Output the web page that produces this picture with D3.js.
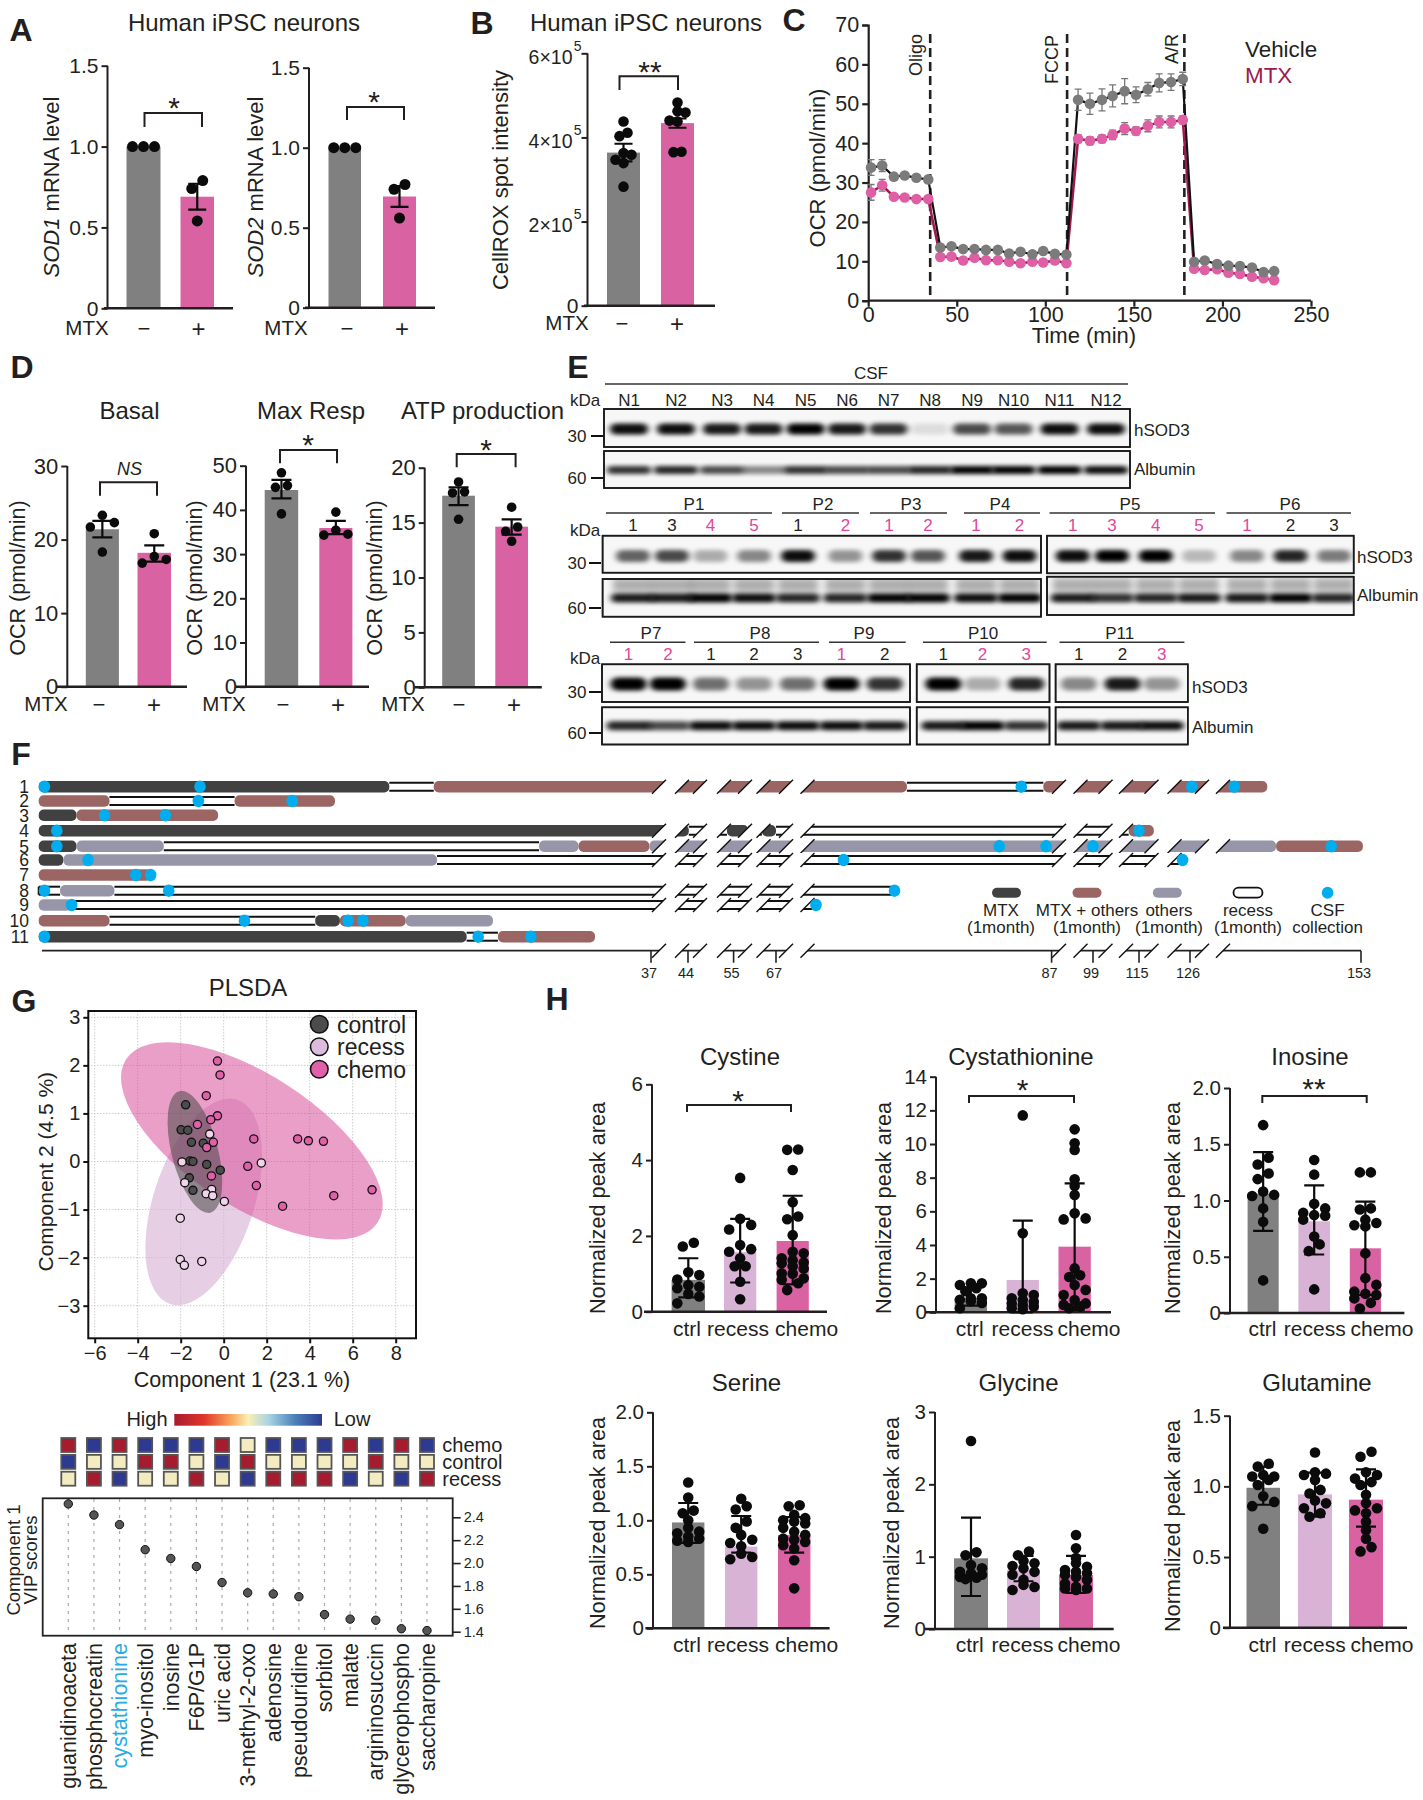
<!DOCTYPE html>
<html><head><meta charset="utf-8">
<script src="https://cdn.jsdelivr.net/npm/d3@7"></script>
<style>html,body{margin:0;background:#fff}svg{display:block}text{font-family:"Liberation Sans",Arial,sans-serif;fill:#231f20}</style>
</head><body><svg id="c" width="1423" height="1800"></svg>
<script>
// ---------- DATA ----------
const mtxCats=["\u2212","+"];
const sod1Means=[1,0.69], sod1Hi=[1,0.77], sod1Lo=[1,0.61], sod1Pts=[[1,1,1],[0.79,0.74,0.54]];
const sod2Means=[1,0.695], sod2Hi=[1,0.76], sod2Lo=[1,0.63], sod2Pts=[[1,1,1],[0.77,0.74,0.56]];
const roxMeans=[3.64,4.34], roxHi=[3.85,4.45], roxLo=[3.43,4.23];
const roxPts=[[4.38,4.11,4.03,3.63,3.59,3.47,3.39,2.83],[4.83,4.62,4.59,4.4,4.38,3.66,3.65]];
const ocrTime=[1.6,7.9,14.5,20.6,27.2,33.9,40.7,47,53.6,60,66.5,73.2,79.6,86,92.7,98.8,105.4,111.9,118.5,125.2,132,138,144.8,151.2,157.9,164.3,171,177.6,184,190,197,203.4,209.9,216.7,223.2,229.2];
const ocrVehicle=[33.8,34.3,31.5,31.8,31.2,30.8,13.5,13.8,13.1,13.1,12.9,12.9,12,12.4,11.8,12.6,11.9,11.7,51,50,51,52,53.2,52.3,53.7,55.3,55.5,56.3,9.9,10.2,9.3,8.9,8.8,8.4,7.3,7.5];
const ocrMtx=[27.5,29.3,26.4,26.2,25.8,25.8,11.1,11.2,10.2,10.9,10.3,10.3,9.9,9.5,9.9,9.7,10.2,9.5,41.1,40.6,41.1,42.1,43.7,43.1,44.4,45.4,45.4,45.9,8.1,7.8,8,7.1,6.8,6.1,5.7,5.2];
const ocrVehicleErr=[2,1.5,0.8,0.6,0.8,0.7,0.5,0.5,0.5,0.5,0.5,0.5,0.5,0.5,0.5,0.5,0.5,0.5,2.7,2.7,2.8,2.8,3.2,2,1.7,2.3,2.1,1.7,0.5,0.5,0.5,0.5,0.5,0.5,0.5,0.5];
const ocrMtxErr=[2,1.5,0.6,0.5,0.5,0.5,0.5,0.5,0.5,0.5,0.5,0.5,0.5,0.5,0.5,0.5,0.5,0.5,1,1,1,1.2,1.5,1,1.5,1.5,1.5,1,0.5,0.5,0.5,0.5,0.5,0.5,0.5,0.5];
const ocrInjections=[{n:"Oligo",t:35},{n:"FCCP",t:112.3},{n:"A/R",t:178.5}];
const basalMeans=[21.4,18.2], basalHi=[22.55,19.2], basalLo=[20.3,17], basalPts=[[23.3,22.3,21.7,18.3],[20.8,17.7,17.3,16.8]];
const maxMeans=[44.5,35.9], maxHi=[46.8,37.5], maxLo=[42.6,34.5], maxPts=[[48.4,45.5,45.1,39.1],[39.5,35.4,34.5,34.3]];
const atpMeans=[17.45,14.63], atpHi=[18.2,15.3], atpLo=[16.6,13.9], atpPts=[[18.7,17.8,17.7,15.3],[16.4,14.6,14.2,13.3]];

const csfLanes=["N1","N2","N3","N4","N5","N6","N7","N8","N9","N10","N11","N12"];
const csfSod=[.95,.95,.9,.9,1,.9,.8,.1,.7,.65,.95,.95];
const csfAlb=[.8,.85,.7,.45,.8,.7,.7,.85,1,1,1,.95];
const row2Lanes=["1","3","4","5","1","2","1","2","1","2","1","3","4","5","1","2","3"];
const row2Pink=[0,0,1,1,0,1,1,1,1,1,1,1,1,1,1,0,0];
const row2Sod=[.6,.7,.3,.45,.95,.4,.8,.65,.9,.95,.95,1,1,.25,.45,.85,.5];
const row2Alb=[.9,.9,1,.95,.85,.85,1,1,.95,1,.9,.8,.85,.9,.9,1,.85];
const row3Lanes=["1","2","1","2","3","1","2","1","2","3","1","2","3"];
const row3Pink=[1,1,0,0,0,1,0,0,1,1,0,0,1];
const row3Sod=[1,1,.55,.4,.55,1,.8,1,.3,.85,.45,.9,.4];
const row3Alb=[.85,.7,.95,.95,.95,.95,.9,.9,1,.8,.9,.9,.95];
const row2Patients=["P1","P2","P3","P4","P5","P6"];
const row3Patients=["P7","P8","P9","P10","P11"];

const fTickMonths=[37,44,55,67,87,99,115,126,153];
const fRowNames=["1","2","3","4","5","6","7","8","9","10","11"];
const fSpans=[
 [["M",-.2,21.1],["R",21.1,23.8],["P",23.8,76.5],["R",76.5,86.4],["P",86.4,138.2]],
 [["P",-.2,4.1],["R",4.1,11.7],["P",11.7,17.8]],
 [["M",-.2,2.1],["P",2.1,10.7]],
 [["M",-.2,44.2],["R",44.2,53.4],["M",53.4,59.2],["R",59.2,63],["M",63,67],["R",67,111.4],["P",111.4,118.2]],
 [["M",-.2,2.1],["O",2.1,7.4],["R",7.4,30.2],["O",30.2,32.6],["P",32.6,36.9],["O",36.9,139.6],["P",139.6,153.3]],
 [["M",-.2,1.3],["O",1.3,24],["R",24,124.4]],
 [["P",-.2,6.65]],
 [["R",-.2,1.1],["O",1.1,4.4],["R",4.4,75.5]],
 [["O",-.2,1.8],["R",1.8,69.8]],
 [["P",-.2,4.1],["R",4.1,16.6],["M",16.6,18.1],["P",18.1,22.1],["O",22.1,27.4]],
 [["M",-.2,25.8],["R",25.8,27.7],["P",27.7,33.6]]
];
const fCsf=[[.15,9.6,84.8,126.3,133],[9.5,15.2],[3.8,7.5],[.9,115],[.9,83.2,86.6,99,148.3],[2.8,71.9,124.4],[5.7,6.6],[.15,7.7,75.6],[1.8,69.9],[12.3,18.6,19.5],[.15,26.5,29.7]];
const fLegendTypes=["M","P","O","R","C"];
const fLegendText=[["MTX","(1month)"],["MTX + others","(1month)"],["others","(1month)"],["recess","(1month)"],["CSF","collection"]];

const plsControl=[[-1.77,1.18],[-1.98,.66],[-1.67,.65],[-1.5,.4],[-.95,.38],[-1.57,.01],[-1.43,0],[-.79,-.06],[-.16,-.18],[-1.6,-.34],[-1.43,-.6]];
const plsRecess=[[-.65,.57],[-1.94,-.01],[-1.81,-.44],[-.56,-.58],[-.82,-.67],[-.51,-.71],[.03,-.83],[1.75,-.03],[-2.02,-1.18],[-2.02,-2.04],[-1.83,-2.16],[-1.02,-2.08]];
const plsChemo=[[-.29,2.09],[-.17,1.8],[-.81,1.37],[-.29,.95],[-.6,.87],[-1.22,.77],[-.48,.4],[-.79,.29],[-.57,-.3],[1.4,.47],[1.12,-.1],[1.52,-.5],[2.74,-.93],[3.44,.47],[3.94,.43],[4.64,.42],[5.12,-.71],[6.9,-.59]];
const plsCentres={chemo:[1.31,.43],recess:[-.93,-.84],control:[-1.34,.2]};

const vipNames=["guanidinoaceta","phosphocreatin","cystathionine","myo-inositol","inosine","F6P/G1P","uric acid","3-methyl-2-oxo","adenosine","pseudouridine","sorbitol","malate","argininosuccin","glycerophospho","saccharopine"];
const vipScores=[2.517,2.42,2.336,2.117,2.04,1.97,1.83,1.74,1.73,1.706,1.55,1.51,1.5,1.426,1.41];
const heatRows=["chemo","control","recess"];
const heatChemo=["H","L","H","L","L","L","H","M","L","L","L","H","L","H","L"];
const heatControl=["L","M","M","H","H","M","L","H","M","M","M","M","H","M","M"];
const heatRecess=["M","H","L","M","M","H","M","L","H","H","H","L","M","L","H"];

const groups=["ctrl","recess","chemo"];
const cystineMeans=[.84,1.57,1.865], cystineHi=[1.41,2.45,3.06], cystineLo=[.38,.77,.72];
const cystinePts=[[1.82,1.72,1.04,.97,.85,.7,.66,.62,.47,.4,.22],[3.53,2.45,2.29,2.17,1.76,1.65,1.58,1.41,1.2,1.2,.79,.33],[4.28,4.27,3.74,2.89,2.51,2.44,2.02,1.58,1.54,1.41,1.36,1.3,1.28,1.2,1.14,1.01,1,.88,.84,.75,.57]];
const cysthMeans=[.83,1.92,3.9], cysthHi=[1.47,5.45,7.66], cysthLo=[.4,0,.15];
const cysthPts=[[1.72,1.72,1.62,1.43,1.25,.83,.83,.75,.65,.55,.24],[11.7,4.7,1.13,1.03,.83,.73,.63,.53,.44,.34,.24,.18],[10.87,10.04,9.64,7.9,7.5,6.97,5.88,5.58,5.52,2.61,2.2,2.1,1.62,1.33,1.03,.73,.53,.44,.34,.24]];
const inosineMeans=[1.06,.815,.575], inosineHi=[1.43,1.135,.99], inosineLo=[.73,.52,.16];
const inosinePts=[[1.67,1.38,1.32,1.24,1.19,1.08,1.05,1.04,.93,.81,.29],[1.36,1.23,.97,.93,.89,.87,.865,.83,.68,.61,.55,.21],[1.25,1.25,.93,.92,.83,.8,.78,.77,.53,.31,.25,.19,.17,.16,.13,.09,.04]];
const serineMeans=[.98,.756,.864], serineHi=[1.16,1.04,1.03], serineLo=[.79,.7,.7];
const serinePts=[[1.35,1.21,1.09,1.065,1,.93,.895,.88,.85,.83,.81,.8],[1.2,1.13,1.1,.99,.93,.865,.82,.79,.76,.69,.66,.64],[1.14,1.13,1.05,1.02,1,.99,.97,.93,.895,.865,.83,.82,.8,.77,.74,.63,.37]];
const glycineMeans=[.977,.815,.746], glycineHi=[1.54,1.01,1.01], glycineLo=[.456,.66,.5];
const glycinePts=[[2.6,1.06,1.02,.885,.84,.79,.77,.75,.72,.71,.69],[1.07,1.02,.94,.91,.87,.84,.79,.75,.68,.61,.58,.54],[1.3,1.115,.98,.91,.86,.815,.79,.77,.75,.72,.68,.63,.585,.56,.56,.54]];
const glutamineMeans=[.99,.943,.906], glutamineHi=[1.14,1.097,1.12], glutamineLo=[.87,.785,.715];
const glutaminePts=[[1.16,1.14,1.08,1.07,1.07,1.045,1.01,.93,.89,.86,.7],[1.24,1.1,1.09,1.08,1.045,.975,.95,.9,.88,.845,.81,.785],[1.245,1.21,1.1,1.08,1.055,1.03,1.01,.94,.88,.845,.83,.81,.75,.69,.63,.57,.54]];

// ---------- HELPERS ----------
const INK="#231f20",GREY="#808080",PINK="#d962a3",LILAC="#d8b3d6",CSFBLUE="#00aeef";
const svg=d3.select("#c");
function T(x,y,s,o={}){
  const t=svg.append("text").attr("x",x).attr("y",y).attr("dy",o.dy??".36em")
    .attr("font-size",o.size||20).attr("text-anchor",o.anchor||"middle").text(s);
  if(o.weight)t.attr("font-weight",o.weight);
  if(o.italic)t.attr("font-style","italic");
  if(o.color)t.style("fill",o.color);
  if(o.rot!==undefined)t.attr("transform",`rotate(${o.rot},${x},${y})`);
  return t;
}
function layoutPts(vals,y,step,cap,thr){
  const s=vals.slice().sort((a,b)=>b-a);const out=[];let chain=[];
  const flush=()=>{const n=chain.length;chain.forEach((v,i)=>{
    let off;
    if(n%2){off=i===0?0:Math.ceil(i/2)*(i%2?1:-1)}
    else{off=(Math.floor(i/2)+.5)*(i%2?-1:1)}
    out.push([off*step,v])});chain=[]};
  s.forEach(v=>{if(chain.length&&(y(v)-y(chain[chain.length-1])>=thr||chain.length>=cap))flush();chain.push(v)});
  flush();return out;
}
function bracket(x1,x2,yT,yB,label,lx,ly,o={}){
  svg.append("path").attr("d",`M${x1},${yB}V${yT}H${x2}V${yB}`).attr("fill","none").attr("stroke",INK).attr("stroke-width",o.w||2);
  if(o.italic)T(lx,ly,label,{size:o.size||24,italic:true});
  else T(lx,ly,label,{size:o.size||30,dy:".56em"});
}
function barPanel(p){
  const y=d3.scaleLinear().domain([0,p.max]).range([p.y0,p.y1]);
  const g=svg.append("g");
  const ax=g.append("g").attr("transform",`translate(${p.ax},0)`)
    .call(d3.axisLeft(y).tickValues(p.ticks).tickSize(p.tick||6).tickFormat(p.fmt||(v=>v===0?"0":d3.format(p.dec||".1f")(v))));
  ax.selectAll("path,line").attr("stroke",INK).attr("stroke-width",2);
  ax.selectAll(".domain").attr("d",`M0,${y(p.max)}V${p.y0}`);
  ax.selectAll("text").attr("font-size",p.tickSize||21).attr("font-family",'"Liberation Sans"').style("fill",INK);
  const r=p.r||5.3;
  p.bars.forEach((b,i)=>{
    g.append("rect").attr("x",b[0]).attr("width",b[1]-b[0]).attr("y",y(p.means[i])).attr("height",p.y0-y(p.means[i])).attr("fill",p.colors[i]);
  });
  g.append("line").attr("x1",p.xs).attr("x2",p.xe).attr("y1",p.y0).attr("y2",p.y0).attr("stroke",INK).attr("stroke-width",2.5);
  p.bars.forEach((b,i)=>{
    const c=(b[0]+b[1])/2;
    const pts=layoutPts(p.pts[i],y,p.step||11,p.cap||3,p.thr||r*1.3);
    g.selectAll(null).data(pts).enter().append("circle").attr("cx",d=>c+d[0]).attr("cy",d=>y(d[1])).attr("r",r).attr("fill","#0b0b0b");
    if(p.hi[i]!==p.lo[i]){
      const cw=p.cap_w||10;
      g.append("path").attr("d",`M${c-cw},${y(p.hi[i])}H${c+cw}M${c},${y(p.hi[i])}V${y(p.lo[i])}M${c-cw},${y(p.lo[i])}H${c+cw}`).attr("stroke","#0b0b0b").attr("stroke-width",2.2).attr("fill","none");
    }
  });
  return y;
}

// ---------- PANEL LETTERS ----------
[["A",21,29],["B",482,22],["C",794,19],["D",22,366],["E",578,366],["F",21,753],["G",24,1000],["H",557,998]]
 .forEach(d=>T(d[1],d[2],d[0],{size:32,weight:"bold"}));

// ---------- A ----------
T(244,22,"Human iPSC neurons",{size:24});
barPanel({ax:107.5,xs:104,xe:233,y0:308.3,y1:65.7,max:1.5,ticks:[0,.5,1,1.5],bars:[[126.5,160.5],[180.5,214]],means:sod1Means,hi:sod1Hi,lo:sod1Lo,pts:sod1Pts,colors:[GREY,PINK],r:5.5,step:11,cap_w:9,thr:9});
barPanel({ax:309,xs:305,xe:435,y0:307.7,y1:67.7,max:1.5,ticks:[0,.5,1,1.5],bars:[[328.5,361],[383,416]],means:sod2Means,hi:sod2Hi,lo:sod2Lo,pts:sod2Pts,colors:[GREY,PINK],r:5.5,step:11,cap_w:9,thr:9});
const rot=(x,y,parts,size)=>{const t=svg.append("text").attr("transform",`translate(${x},${y}) rotate(-90)`).attr("text-anchor","middle").attr("font-size",size||22);
 parts.forEach(p=>t.append("tspan").attr("font-style",p[1]?"italic":null).text(p[0]));};
rot(59,187,[["SOD1",1],[" mRNA level"]]);
rot(263,187,[["SOD2",1],[" mRNA level"]]);
bracket(144.5,202,113,127,"*",174,101);
bracket(347,404,107,120,"*",374,95);
[[87,144,198.5,328],[286,347,402,328],[567,622,677,323],[46,99,154,704],[224,283,338,704],[403,459,514,704]].forEach(d=>{
 T(d[0],d[3],"MTX",{size:20.5});T(d[1],d[3],mtxCats[0],{size:22});T(d[2],d[3],mtxCats[1],{size:24});});

// ---------- B ----------
T(646,22,"Human iPSC neurons",{size:24});
const supFmt=v=>v===0?"0":`${v}\u00d710`;
const yB=barPanel({ax:587.5,xs:584,xe:715,y0:305.7,y1:53.3,max:6,ticks:[0,2,4,6],bars:[[607,640],[661,694]],means:roxMeans,hi:roxHi,lo:roxLo,pts:roxPts,colors:[GREY,PINK],r:5.3,step:8,cap_w:9,thr:8,fmt:supFmt});
svg.selectAll("g.tick").filter(function(){return d3.select(this).select("text").text().includes("\u00d7")}).select("text").each(function(){
 const s=d3.select(this);s.attr("font-size",19.5).attr("x",-15).attr("y",4);
 d3.select(this.parentNode).append("text").attr("x",-6).attr("y",-3).attr("text-anchor","end").attr("font-size",14).style("fill",INK).attr("font-family",'"Liberation Sans"').text("5");
});
rot(508,180,[["CellROX spot intensity"]]);
bracket(619.5,678,76.3,90,"**",650,65);

// ---------- C ----------
{
 const x=d3.scaleLinear().domain([0,250]).range([868.2,1311]);
 const y=d3.scaleLinear().domain([0,70]).range([300.7,25]);
 const ga=svg.append("g").attr("transform","translate(868.2,0)").call(d3.axisLeft(y).tickValues(d3.range(0,71,10)).tickSize(6));
 const gb=svg.append("g").attr("transform","translate(0,300.7)").call(d3.axisBottom(x).tickValues(d3.range(0,251,50)).tickSize(6));
 [ga,gb].forEach(a=>{a.selectAll("path,line").attr("stroke",INK).attr("stroke-width",2.2);a.selectAll("text").attr("font-size",21.5).attr("font-family",'"Liberation Sans"').style("fill",INK);});
 gb.selectAll(".domain").attr("d",`M868.2,0H1311`);
 gb.selectAll("text").attr("dy",".55em").attr("y",9);
 ocrInjections.forEach(d=>svg.append("line").attr("x1",x(d.t)).attr("x2",x(d.t)).attr("y1",34).attr("y2",300).attr("stroke",INK).attr("stroke-width",2.6).attr("stroke-dasharray","9 5"));
 T(916,76,"Oligo",{size:18,rot:-90,anchor:"start"});
 T(1052,84,"FCCP",{size:18,rot:-90,anchor:"start"});
 T(1172,64,"A/R",{size:18,rot:-90,anchor:"start"});
 const line=d3.line().x((d,i)=>x(ocrTime[i])).y(d=>y(d));
 svg.append("path").attr("d",line(ocrMtx)).attr("fill","none").attr("stroke","#a3174f").attr("stroke-width",2.5);
 svg.append("path").attr("d",line(ocrVehicle)).attr("fill","none").attr("stroke","#111").attr("stroke-width",2.2);
 const drawPts=(vals,errs,col,ec)=>{
  vals.forEach((v,i)=>{const c=x(ocrTime[i]);
   svg.append("path").attr("d",`M${c-3.5},${y(v+errs[i])}H${c+3.5}M${c},${y(v+errs[i])}V${y(v-errs[i])}M${c-3.5},${y(v-errs[i])}H${c+3.5}`).attr("stroke",ec).attr("stroke-width",1.3).attr("fill","none");});
  svg.selectAll(null).data(vals).enter().append("circle").attr("cx",(d,i)=>x(ocrTime[i])).attr("cy",d=>y(d)).attr("r",5.3).attr("fill",col);
 };
 drawPts(ocrMtx,ocrMtxErr,"#df5fa5","#777");
 drawPts(ocrVehicle,ocrVehicleErr,"#7b7b7b","#777");
 T(817,168,"OCR (pmol/min)",{size:22,rot:-90});
 T(1084,335,"Time (min)",{size:22});
 T(1245,49,"Vehicle",{size:22.4,anchor:"start"});
 T(1245,75,"MTX",{size:22.4,anchor:"start",color:"#9b1b4a"});
}

// ---------- D ----------
T(129.5,410,"Basal",{size:24}); T(311,410,"Max Resp",{size:24}); T(482.5,410,"ATP production",{size:24});
barPanel({ax:67.3,xs:56,xe:187,y0:686.7,y1:466,max:30,ticks:[0,10,20,30],dec:"d",bars:[[85.8,118.9],[137.5,171]],means:basalMeans,hi:basalHi,lo:basalLo,pts:basalPts,colors:[GREY,PINK],r:4.8,step:12,thr:9,cap:3,tickSize:22});
barPanel({ax:246,xs:236,xe:369,y0:686.7,y1:465.7,max:50,ticks:[0,10,20,30,40,50],dec:"d",bars:[[264.7,298.2],[319.3,352.4]],means:maxMeans,hi:maxHi,lo:maxLo,pts:maxPts,colors:[GREY,PINK],r:4.8,step:12,thr:9,cap:3,tickSize:22});
barPanel({ax:424.7,xs:414.5,xe:541.8,y0:687.3,y1:467.7,max:20,ticks:[0,5,10,15,20],dec:"d",bars:[[442.2,474.9],[495.3,528]],means:atpMeans,hi:atpHi,lo:atpLo,pts:atpPts,colors:[GREY,PINK],r:4.8,step:12,thr:9,cap:3,tickSize:22});
T(17,578,"OCR (pmol/min)",{size:21.5,rot:-90});T(194,578,"OCR (pmol/min)",{size:21.5,rot:-90});T(374.6,578,"OCR (pmol/min)",{size:21.5,rot:-90});
bracket(100,157,482.3,495.7,"NS",129.5,469,{italic:true,size:18});
bracket(280,337,450,463.3,"*",308,438);
bracket(456.7,515.6,454,467.3,"*",486,443);

// ---------- E ----------
{
 const defs=svg.append("defs");
 defs.append("filter").attr("id","bl").attr("x","-30%").attr("y","-60%").attr("width","160%").attr("height","220%").append("feGaussianBlur").attr("stdDeviation","3 2");
 defs.append("filter").attr("id","bl2").attr("x","-30%").attr("y","-60%").attr("width","160%").attr("height","220%").append("feGaussianBlur").attr("stdDeviation","3.5 3.5");
 const box=(x1,x2,y1,y2)=>svg.append("rect").attr("x",x1).attr("y",y1).attr("width",x2-x1).attr("height",y2-y1).attr("fill","#f7f7f7").attr("stroke","#1a1a1a").attr("stroke-width",1.6);
 const frame=(x1,x2,y1,y2)=>svg.append("rect").attr("x",x1).attr("y",y1).attr("width",x2-x1).attr("height",y2-y1).attr("fill","none").attr("stroke","#1a1a1a").attr("stroke-width",1.6);
 const clipBox=(id,bs)=>{const c=defs.append("clipPath").attr("id",id);bs.forEach(b=>c.append("rect").attr("x",b[0]).attr("y",b[2]).attr("width",b[1]-b[0]).attr("height",b[3]-b[2]));};
 const bands=(id,xs,vals,by,w,h,smear)=>{
  const gg=svg.append("g").attr("clip-path",`url(#${id})`);
  xs.forEach((x,i)=>{
   if(smear)gg.append("rect").attr("x",x-w/2+2).attr("y",by-smear-6).attr("width",w-4).attr("height",smear).attr("fill","#000").attr("opacity",.3).attr("filter","url(#bl2)");
   gg.append("rect").attr("x",x-w/2).attr("y",by-h/2).attr("width",w).attr("height",h).attr("rx",h/2).attr("fill","#000").attr("opacity",vals[i]).attr("filter","url(#bl)");
  });
 };
 const lab=(x,y,s,o={})=>T(x,y,s,{size:17,...o});
 const mw=(x,y)=>svg.append("line").attr("x1",x).attr("x2",x+12).attr("y1",y).attr("y2",y).attr("stroke","#111").attr("stroke-width",2);
 const hdr=(x1,x2,y)=>svg.append("line").attr("x1",x1).attr("x2",x2).attr("y1",y).attr("y2",y).attr("stroke","#333").attr("stroke-width",1.5);
 // row 1
 const xs1=[629,676,722,763.5,805.6,847,888.5,930,972,1013.5,1059.5,1106];
 lab(871,373,"CSF");hdr(605,1128,384);
 csfLanes.forEach((n,i)=>lab(xs1[i],400,n));
 clipBox("c1",[[604,1130,409,447]]);clipBox("c2",[[604,1130,451,488]]);
 box(604,1130,409,447);bands("c1",xs1,csfSod,429,38,11);frame(604,1130,409,447);
 box(604,1130,451,488);bands("c2",xs1,csfAlb,470,44,8);frame(604,1130,451,488);
 lab(585,400,"kDa");lab(577,436,"30");lab(577,478,"60");mw(591,436);mw(591,478);
 lab(1134,430,"hSOD3",{anchor:"start"});lab(1134,469,"Albumin",{anchor:"start"});
 // row 2
 const xs2=[633,672,710.4,754,798,845.4,889,928,976,1019.6,1072.7,1112,1155.7,1199,1247,1290.6,1334];
 const pat2=[[606,772,694],[782,859,823],[870,947,911],[964,1040,1000],[1049.5,1215,1130],[1226.5,1351,1290]];
 row2Patients.forEach((n,i)=>{hdr(pat2[i][0],pat2[i][1],513);lab(pat2[i][2],504,n);});
 row2Lanes.forEach((n,i)=>lab(xs2[i],525,n,{color:row2Pink[i]?"#e0459b":INK}));
 clipBox("c3",[[602.6,1041,535.7,572.7],[1047,1353.7,535.7,573.3]]);
 clipBox("c4",[[602.6,1041,579,616.7],[1047,1353.7,576.7,615]]);
 box(602.6,1041,535.7,572.7);box(1047,1353.7,535.7,573.3);
 bands("c3",xs2,row2Sod,556,34,12);
 frame(602.6,1041,535.7,572.7);frame(1047,1353.7,535.7,573.3);
 box(602.6,1041,579,616.7);box(1047,1353.7,576.7,615);
 bands("c4",xs2,row2Alb,598,44,9,14);
 frame(602.6,1041,579,616.7);frame(1047,1353.7,576.7,615);
 lab(585,530,"kDa");lab(577,563,"30");lab(577,608,"60");mw(589,563);mw(589,608);
 lab(1357,557,"hSOD3",{anchor:"start"});lab(1357,595,"Albumin",{anchor:"start"});
 // row 3
 const xs3=[628.6,667.9,711,754,797.8,841.5,884.7,943.3,982.6,1026.3,1078.8,1122.5,1161.8];
 const pat3=[[610,685.5,651],[694,819,760],[829,905.7,864],[923,1046.7,983],[1059.5,1184.4,1119.7]];
 row3Patients.forEach((n,i)=>{hdr(pat3[i][0],pat3[i][1],642.3);lab(pat3[i][2],633,n);});
 row3Lanes.forEach((n,i)=>lab(xs3[i],654,n,{color:row3Pink[i]?"#e0459b":INK}));
 const bx3=[[602,910],[916.7,1049.5],[1055.6,1187.8]];
 clipBox("c5",bx3.map(b=>[b[0],b[1],664.3,702]));
 clipBox("c6",bx3.map(b=>[b[0],b[1],707.3,744.5]));
 bx3.forEach(b=>box(b[0],b[1],664.3,702));
 bands("c5",xs3,row3Sod,684,36,13);
 bx3.forEach(b=>frame(b[0],b[1],664.3,702));
 bx3.forEach(b=>box(b[0],b[1],707.3,744.5));
 bands("c6",xs3,row3Alb,725.7,44,9);
 bx3.forEach(b=>frame(b[0],b[1],707.3,744.5));
 lab(585,658,"kDa");lab(577,692,"30");lab(577,733,"60");mw(589,692);mw(589,733);
 lab(1192,687,"hSOD3",{anchor:"start"});lab(1192,727,"Albumin",{anchor:"start"});
}

// ---------- F ----------
{
 const s=d3.scaleLinear().domain([0,37,44,55,67,87,99,115,126,153]).range([42,651,688,733.6,776,1051.6,1093,1139,1190,1361]);
 const ys=[786.7,801,815.3,830.7,846.3,860,875,890.7,905,920.7,936.7];
 const col={M:"#414141",P:"#9a6563",O:"#9796a9"};
 const gaps=[[659,682],[700,724],[745,763.5],[786,807.5],[1059,1080.5],[1105.5,1126],[1151.5,1174.5],[1202,1223]];
 const slash=(x,y)=>svg.append("line").attr("x1",x-7).attr("x2",x+7).attr("y1",y+7).attr("y2",y-7).attr("stroke","#111").attr("stroke-width",1.4);
 fSpans.forEach((row,i)=>{
  const y=ys[i];
  T(29,y,fRowNames[i],{size:17.5,anchor:"end"});
  row.filter(d=>d[0]==="R").forEach(d=>{
   [-4,4].forEach(o=>svg.append("line").attr("x1",s(d[1])).attr("x2",s(d[2])).attr("y1",y+o).attr("y2",y+o).attr("stroke","#111").attr("stroke-width",2));
   if(d[1]<0)svg.append("line").attr("x1",s(d[1])).attr("x2",s(d[1])).attr("y1",y-4).attr("y2",y+4).attr("stroke","#111").attr("stroke-width",2);
  });
  row.filter(d=>d[0]!=="R").forEach(d=>svg.append("rect").attr("x",s(d[1])).attr("width",s(d[2])-s(d[1])).attr("y",y-5.7).attr("height",11.4).attr("rx",5).attr("fill",col[d[0]]));
  const end=s(d3.max(row,d=>d[2]));
  gaps.filter(g=>end>g[1]).forEach(g=>{
   svg.append("polygon").attr("points",`${g[0]+7},${y-7} ${g[1]+7},${y-7} ${g[1]-7},${y+7} ${g[0]-7},${y+7}`).attr("fill","#fff");
   slash(g[0],y);slash(g[1],y);
  });
 });
 fCsf.forEach((row,i)=>svg.selectAll(null).data(row).enter().append("ellipse").attr("cx",d=>s(d)).attr("cy",ys[i]).attr("rx",5.8).attr("ry",6.2).attr("fill",CSFBLUE));
 const ay=950.7;
 svg.append("line").attr("x1",42).attr("x2",s(153)).attr("y1",ay).attr("y2",ay).attr("stroke","#222").attr("stroke-width",1.8);
 gaps.forEach(g=>{
  svg.append("polygon").attr("points",`${g[0]+7},${ay-5} ${g[1]+7},${ay-5} ${g[1]-7},${ay+5} ${g[0]-7},${ay+5}`).attr("fill","#fff");
  slash(g[0],ay);slash(g[1],ay);
 });
 fTickMonths.forEach(m=>{
  svg.append("line").attr("x1",s(m)).attr("x2",s(m)).attr("y1",ay).attr("y2",ay+12).attr("stroke","#222").attr("stroke-width",1.6);
  T(s(m)-2,973,m,{size:14.5});
 });
 const lx=[1006.5,1087,1167.3,1248,1327.6],tx=[1001,1087,1169,1248,1327.6];
 fLegendTypes.forEach((t,i)=>{
  if(t==="C")svg.append("ellipse").attr("cx",lx[i]).attr("cy",892.7).attr("rx",5.8).attr("ry",6).attr("fill",CSFBLUE);
  else svg.append("rect").attr("x",lx[i]-14.5).attr("y",887.7).attr("width",29).attr("height",10).attr("rx",5).attr("fill",t==="R"?"#fff":col[t]).attr("stroke",t==="R"?"#111":"none").attr("stroke-width",1.8);
  T(tx[i],910,fLegendText[i][0],{size:17});T(tx[i],926.7,fLegendText[i][1],{size:17});
 });
}

// ---------- G ----------
{
 const x=d3.scaleLinear().domain([-6,8]).range([94.7,395.7]);
 const y=d3.scaleLinear().domain([-3,3]).range([1305.7,1017.3]);
 const xt=d3.range(-6,9,2),yt=d3.range(-3,4);
 const g=svg.append("g");
 xt.forEach(v=>g.append("line").attr("x1",x(v)).attr("x2",x(v)).attr("y1",1011).attr("y2",1338).attr("stroke","#ccc").attr("stroke-width",1).attr("stroke-dasharray","1.5 1.5"));
 yt.forEach(v=>g.append("line").attr("y1",y(v)).attr("y2",y(v)).attr("x1",88).attr("x2",416).attr("stroke","#ccc").attr("stroke-width",1).attr("stroke-dasharray","1.5 1.5"));
 const ell=(c,a,b,ang,fill,op)=>g.append("ellipse").attr("rx",a).attr("ry",b).attr("transform",`translate(${x(c[0])},${y(c[1])}) rotate(${ang})`).attr("fill",fill).attr("opacity",op);
 ell(plsCentres.recess,107.5,50.2,-71.8,"#d8b3d6",.65);
 ell(plsCentres.chemo,150,66,33,"#d9509b",.55);
 ell(plsCentres.control,62.7,23.2,75.65,"#484848",.55);
 g.append("rect").attr("x",88.3).attr("y",1011).attr("width",327.7).attr("height",327.3).attr("fill","none").attr("stroke","#111").attr("stroke-width",2);
 const ax=svg.append("g").attr("transform","translate(88.3,0)").call(d3.axisLeft(y).tickValues(yt).tickSize(5).tickFormat(d3.format("d")));
 const bx=svg.append("g").attr("transform","translate(0,1338.3)").call(d3.axisBottom(x).tickValues(xt).tickSize(5).tickFormat(d3.format("d")));
 [ax,bx].forEach(a=>{a.selectAll(".domain").remove();a.selectAll("line").attr("stroke","#111").attr("stroke-width",2);a.selectAll("text").attr("font-size",20).attr("font-family",'"Liberation Sans"').style("fill",INK);});
 const dots=(arr,fill)=>svg.selectAll(null).data(arr).enter().append("circle").attr("cx",d=>x(d[0])).attr("cy",d=>y(d[1])).attr("r",4.1).attr("fill",fill).attr("stroke","#111").attr("stroke-width",1.3);
 dots(plsControl,"#4c4c4c");dots(plsRecess,"#f0d4ea");dots(plsChemo,"#e060aa");
 [["control","#4c4c4c",1024.3],["recess","#dcbcdc",1046.7],["chemo","#e060aa",1069.3]].forEach(d=>{
  svg.append("circle").attr("cx",319.3).attr("cy",d[2]).attr("r",8.8).attr("fill",d[1]).attr("stroke","#111").attr("stroke-width",1.5);
  T(337,d[2],d[0],{size:23,anchor:"start"});
 });
 T(248,987,"PLSDA",{size:24});
 T(45,1171.7,"Component 2 (4.5 %)",{size:21,rot:-90});
 T(242,1379,"Component 1 (23.1 %)",{size:21.5});
}

// ---------- VIP ----------
{
 const x=d3.scalePoint().domain(vipNames).range([68.3,427]);
 const y=d3.scaleLinear().domain([1.4,2.4]).range([1631.7,1517.3]);
 const grad=svg.select("defs").append("linearGradient").attr("id","hl");
 [["0","#a61c2e"],[".2","#e0352b"],[".38","#f9a35a"],[".5","#f9f0b4"],[".64","#a8d3e3"],[".82","#4a7fb8"],["1","#2e3a92"]].forEach(s=>grad.append("stop").attr("offset",s[0]).attr("stop-color",s[1]));
 svg.append("rect").attr("x",174.3).attr("y",1414).attr("width",147.7).attr("height",11.7).attr("fill","url(#hl)");
 T(147,1419,"High",{size:20});T(352,1419,"Low",{size:20});
 const heat=d3.scaleOrdinal().domain(["H","M","L"]).range(["#a61c2e","#f2ecc0","#2e3a92"]);
 const hy=d3.scalePoint().domain(heatRows).range([1445,1478.7]);
 [heatChemo,heatControl,heatRecess].forEach((row,j)=>{
  const yy=hy(heatRows[j]);
  svg.selectAll(null).data(row).enter().append("rect").attr("x",(d,i)=>x(vipNames[i])-7).attr("y",yy-7).attr("width",14).attr("height",14).attr("fill",d=>heat(d)).attr("stroke","#555").attr("stroke-width",1.8);
  T(442.3,yy,heatRows[j],{size:20,anchor:"start"});
 });
 vipNames.forEach(n=>svg.append("line").attr("x1",x(n)).attr("x2",x(n)).attr("y1",1499).attr("y2",1635).attr("stroke","#aaa").attr("stroke-width",1.2).attr("stroke-dasharray","3 5"));
 svg.append("rect").attr("x",42.7).attr("y",1498.3).attr("width",410).attr("height",137.4).attr("fill","none").attr("stroke","#222").attr("stroke-width",1.8);
 svg.selectAll(null).data(vipScores).enter().append("circle").attr("cx",(d,i)=>x(vipNames[i])).attr("cy",d=>y(d)).attr("r",4.2).attr("fill","#555").attr("stroke","#111").attr("stroke-width",1);
 const a=svg.append("g").attr("transform","translate(452.7,0)").call(d3.axisRight(y).tickValues([1.4,1.6,1.8,2,2.2,2.4]).tickSize(8).tickFormat(d3.format(".1f")));
 a.selectAll(".domain").remove();a.selectAll("line").attr("stroke","#222").attr("stroke-width",1.6);a.selectAll("text").attr("font-size",14.5).attr("font-family",'"Liberation Sans"').style("fill",INK);
 T(13,1560,"Component 1",{size:18.5,rot:-90});T(30,1560,"VIP scores",{size:18.5,rot:-90});
 vipNames.forEach((n,i)=>T(x(n),1643,n,{size:21.5,rot:-90,anchor:"end",color:n==="cystathionine"?"#29abe2":INK}));
}

// ---------- H ----------
{
 const C=[GREY,LILAC,PINK];
 const base={colors:C,r:5.3,step:11,cap:3,thr:7,cap_w:10,tickSize:20.5};
 barPanel({...base,ax:652,xs:644,xe:827,y0:1311.7,y1:1084.3,max:6,ticks:[0,2,4,6],dec:"d",bars:[[671.6,705],[724,756.3],[776.6,808.8]],means:cystineMeans,hi:cystineHi,lo:cystineLo,pts:cystinePts});
 barPanel({...base,ax:936,xs:925,xe:1111,y0:1312.3,y1:1076.7,max:14,ticks:[0,2,4,6,8,10,12,14],dec:"d",bars:[[954.7,987],[1006.6,1038.9],[1058.5,1090.8]],means:cysthMeans,hi:cysthHi,lo:cysthLo,pts:cysthPts,thr:6});
 barPanel({...base,ax:1230,xs:1220,xe:1404.4,y0:1313,y1:1088,max:2,ticks:[0,.5,1,1.5,2],bars:[[1247.6,1278.7],[1298.4,1330],[1349.8,1380.9]],means:inosineMeans,hi:inosineHi,lo:inosineLo,pts:inosinePts});
 barPanel({...base,ax:653,xs:645.4,xe:829.6,y0:1628.3,y1:1412.3,max:2,ticks:[0,.5,1,1.5,2],bars:[[672,704.4],[725,757.4],[778,810.4]],means:serineMeans,hi:serineHi,lo:serineLo,pts:serinePts});
 barPanel({...base,ax:935,xs:925,xe:1113.7,y0:1629,y1:1412,max:3,ticks:[0,1,2,3],dec:"d",bars:[[954,988],[1007,1040],[1059,1093]],means:glycineMeans,hi:glycineHi,lo:glycineLo,pts:glycinePts,thr:5});
 barPanel({...base,ax:1230,xs:1223,xe:1407,y0:1627.7,y1:1415.7,max:1.5,ticks:[0,.5,1,1.5],bars:[[1246.5,1280],[1298,1332],[1349,1383]],means:glutamineMeans,hi:glutamineHi,lo:glutamineLo,pts:glutaminePts});
 [["Cystine",740,1056],["Cystathionine",1021,1056],["Inosine",1310,1056],["Serine",746.5,1382],["Glycine",1018.5,1382],["Glutamine",1317,1382]].forEach(d=>T(d[1],d[2],d[0],{size:24}));
 [[597,1208],[883,1208],[1172,1208],[597,1523],[891,1523],[1172,1526]].forEach(d=>T(d[0],d[1],"Normalized peak area",{size:21.7,rot:-90}));
 [[687,738,806.6,1328],[969.7,1022.5,1089,1328],[1262.4,1314.8,1382,1328],[687,738,806.6,1644],[969.7,1022.5,1089,1644],[1262.4,1314.8,1382,1644]].forEach(d=>{
  groups.forEach((n,i)=>T(d[i],d[3],n,{size:21}));
 });
 bracket(687,791,1105,1112,"*",738,1094);
 bracket(969,1074,1096,1103,"*",1022.5,1083);
 bracket(1262.3,1366.7,1096,1103,"**",1314,1082);
}
</script></body></html>
